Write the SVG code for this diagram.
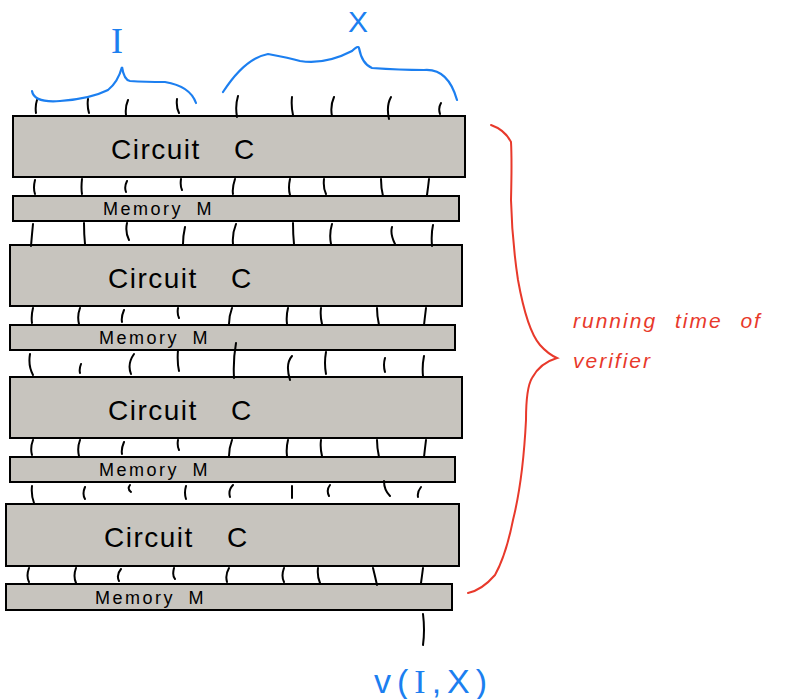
<svg xmlns="http://www.w3.org/2000/svg" width="789" height="699" viewBox="0 0 789 699">
<style>
.box{fill:#c7c4be;stroke:#000;stroke-width:2}
.w{fill:none;stroke:#000;stroke-width:2;stroke-linecap:round}
.ct{font-family:"Liberation Sans",sans-serif;font-size:28px;fill:#000;letter-spacing:1.5px;word-spacing:24px}
.mt{font-family:"Liberation Sans",sans-serif;font-size:18px;fill:#000;letter-spacing:2.5px;word-spacing:6px}
.blue{fill:none;stroke:#1c7ff0;stroke-width:2.2;stroke-linecap:round}
.red{fill:none;stroke:#e8392b;stroke-width:2;stroke-linecap:round}
.bt{font-family:"Liberation Sans",sans-serif;fill:#1c7ff0}
.ser{font-family:"Liberation Serif",serif}
.rt{font-family:"Liberation Sans",sans-serif;font-style:italic;font-size:21px;fill:#e8392b;letter-spacing:2px;word-spacing:10px}
</style>
<g id="circuit1"><rect class="box" x="13" y="116" width="452" height="61"/><text class="ct" x="111" y="159">Circuit C</text></g>
<g id="memory1"><rect class="box" x="13" y="196" width="446" height="25"/><text class="mt" x="103" y="215">Memory M</text></g>
<g id="circuit2"><rect class="box" x="10" y="245" width="452" height="61"/><text class="ct" x="108" y="288">Circuit C</text></g>
<g id="memory2"><rect class="box" x="10" y="325" width="445" height="25"/><text class="mt" x="99" y="344">Memory M</text></g>
<g id="circuit3"><rect class="box" x="10" y="377" width="452" height="61"/><text class="ct" x="108" y="420">Circuit C</text></g>
<g id="memory3"><rect class="box" x="10" y="457" width="445" height="25"/><text class="mt" x="99" y="476">Memory M</text></g>
<g id="circuit4"><rect class="box" x="6" y="504" width="453" height="62"/><text class="ct" x="104" y="547">Circuit C</text></g>
<g id="memory4"><rect class="box" x="6" y="584" width="446" height="26"/><text class="mt" x="95" y="604">Memory M</text></g>
<g id="connectors">
<path class="w" d="M37 100 Q35 106 36 113 M88 99 Q87 106 89 113 M128 100 Q125 107 126 115 M177 99 Q176 107 179 113 M238 96 Q235 106 237 117 M292 97 Q291 106 293 115 M334 97 Q330 106 332 116 M391 97 Q386 106 389 119 M441 103 Q438 108 440 114"/>
<path class="w" d="M35 180 Q33 188 35 194 M82 179 Q81 188 82 194 M127 181 Q124 187 126 192 M181 179 Q180 186 182 190 M235 179 Q232 188 233 194 M290 179 Q288 188 290 195 M324 179 Q323 188 326 194 M381 179 Q381 188 383 196 M429 179 Q428 188 427 195"/>
<path class="w" d="M33 224 Q32 234 31 246 M84 223 Q84 234 85 244 M127 223 Q125 232 129 240 M185 227 Q183 236 183 244 M236 224 Q232 234 233 244 M293 223 Q293 234 294 244 M332 224 Q329 234 331 244 M392 227 Q390 234 395 244 M433 225 Q431 234 432 246"/>
<path class="w" d="M33 308 Q31 316 32 323 M80 308 Q77 316 79 324 M124 310 Q121 317 122 322 M178 308 Q177 314 179 318 M232 308 Q229 316 229 324 M288 308 Q286 316 287 324 M321 308 Q320 316 322 324 M377 308 Q377 316 379 325 M426 308 Q425 316 424 325"/>
<path class="w" d="M30 354 Q28 366 33 375 M81 364 Q79 369 80 373 M134 354 Q127 364 131 374 M178 350 Q177 362 179 371 M236 343 Q233 360 234 378 M292 356 Q285 364 290 380 M326 352 Q324 363 326 374 M385 358 Q383 365 385 372 M424 356 Q422 366 423 376"/>
<path class="w" d="M33 440 Q30 448 32 455 M80 440 Q77 448 79 456 M124 442 Q121 449 122 454 M178 440 Q177 446 179 450 M232 440 Q229 448 229 456 M288 440 Q286 448 287 456 M321 440 Q320 448 322 456 M377 440 Q377 448 379 457 M426 440 Q425 448 424 457"/>
<path class="w" d="M32 486 Q31 495 34 503 M85 487 Q82 494 85 499 M130 485 Q127 489 131 492 M186 486 Q184 493 186 499 M233 485 Q228 490 230 497 M292 486 Q292 492 292 498 M330 485 Q326 490 329 496 M384 481 Q384 490 390 496 M421 487 Q417 492 418 497"/>
<path class="w" d="M29 568 Q26 576 29 582 M76 568 Q73 576 76 583 M121 569 Q116 575 119 581 M174 568 Q172 576 175 579 M229 568 Q225 575 227 582 M284 568 Q281 576 284 582 M318 568 Q317 576 320 583 M373 568 Q375 576 377 585 M423 568 Q422 576 421 583"/>
<path class="w" d="M423 614 Q425 630 423 645"/>
</g>
<g id="label-I">
<path class="blue" d="M32 91 Q34 103 60 101 Q90 99 108 90 Q118 82 122 67 Q124 80 130 81 Q145 82 165 82 Q190 86 196 103"/>
<text class="bt ser" x="111" y="53" font-size="36">I</text>
</g>
<g id="label-X">
<path class="blue" d="M223 92 Q245 58 268 54 Q290 58 300 61 Q325 65 352 51 Q358 45 359 48 Q362 64 372 68 Q400 70 424 70 Q448 68 457 100"/>
<text class="bt" x="348" y="32" font-size="30">X</text>
</g>
<g id="label-output">
<text class="bt" x="374" y="693" font-size="34" letter-spacing="6">v(<tspan class="ser">I</tspan>,X)</text>
</g>
<g id="label-runtime">
<path class="red" d="M491 125 Q505 130 511 142 Q512 160 511 200 Q512 240 518 280 Q527 330 540 345 Q548 354 557 358 Q540 363 532 378 Q526 388 526 420 Q523 480 513 520 Q506 555 495 575 Q482 590 468 593"/>
<text class="rt" x="573" y="328">running time of</text>
<text class="rt" x="573" y="368" letter-spacing="4">verifier</text>
</g>
</svg>
